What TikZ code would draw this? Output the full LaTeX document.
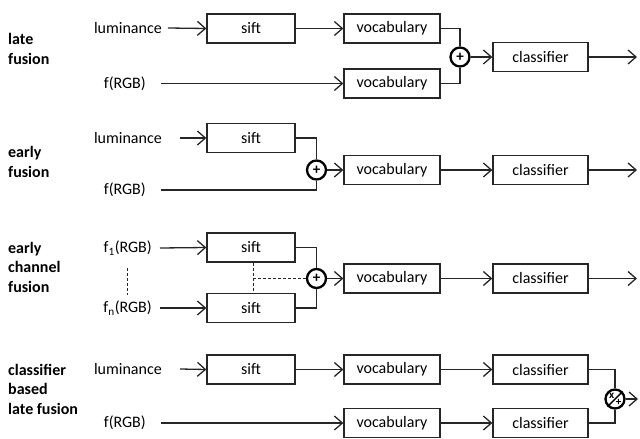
\documentclass[tikz,border=0pt]{standalone}
\usepackage{fontspec}
\setmainfont{Carlito}
\usetikzlibrary{arrows.meta,calc}

\begin{document}
\begin{tikzpicture}[x=1pt,y=-1pt,
  every node/.style={font=\fontsize{16}{20}\selectfont},
  box/.style={draw=black!85,line width=1.3pt,minimum height=29pt,inner sep=0pt},
  siftbox/.style={box,minimum width=88pt},
  vocbox/.style={box,minimum width=96pt},
  clsbox/.style={box,minimum width=95pt},
  sum/.style={circle,draw=black,line width=2.3pt,minimum size=19pt,inner sep=0pt},
  sumsign/.style={inner sep=0pt,font=\fontsize{15}{15}\selectfont\bfseries},
  lbl/.style={anchor=east,inner sep=0pt},
  title/.style={anchor=west,align=left,inner sep=0pt,font=\fontsize{16}{19.5}\selectfont\bfseries},
  wire/.style={draw=black!85,line width=1.3pt},
  dashwire/.style={wire,line width=1pt,dash pattern=on 3pt off 2pt},
  arr/.style={wire,-{Straight Barb[length=8pt,width=14pt]}},
  opsign/.style={inner sep=0pt,font=\fontsize{11}{11}\selectfont\bfseries}
]
\useasboundingbox (0,0) rectangle (640,439);

% ---------- late fusion ----------
\node[title] (t1) at (8,49) {late\\fusion};
\node[lbl] (lum1) at (162,28) {luminance};
\node[siftbox] (sift1) at (251,28.5) {sift};
\node[vocbox] (voc1a) at (392,28.5) {vocabulary};
\node[lbl] (rgb1) at (146,83.5) {f(RGB)};
\node[vocbox] (voc1b) at (392,83.5) {vocabulary};
\node[sum] (sum1) at (460,57) {};
\node[sumsign] at (sum1.center) {+};
\node[clsbox] (cls1) at (540.5,57) {classifier};
\coordinate (out1) at (637,57);

\draw[arr] ([xshift=6pt]lum1.east) -- (sift1.west);
\draw[arr] (sift1.east) -- (voc1a.west);
\draw[arr] ([xshift=15pt]rgb1.east) -- (voc1b.west);
\draw[wire] (voc1a.east) -| (sum1.north);
\draw[wire] (voc1b.east) -| (sum1.south);
\draw[arr] (sum1.east) -- (cls1.west);
\draw[arr] (cls1.east) -- (out1);

% ---------- early fusion ----------
\node[title] (t2) at (8,162) {early\\fusion};
\node[lbl] (lum2) at (162,138) {luminance};
\node[siftbox] (sift2) at (251,138) {sift};
\node[lbl] (rgb2) at (146,190) {f(RGB)};
\node[sum] (sum2) at (316.5,170) {};
\node[sumsign] at (sum2.center) {+};
\node[vocbox] (voc2) at (392,170) {vocabulary};
\node[clsbox] (cls2) at (540.5,170) {classifier};
\coordinate (out2) at (637,170);

\draw[arr] ([xshift=18pt]lum2.east) -- (sift2.west);
\draw[wire] (sift2.east) -| (sum2.north);
\draw[wire] ([xshift=15pt]rgb2.east) -| (sum2.south);
\draw[arr] (sum2.east) -- (voc2.west);
\draw[arr] (voc2.east) -- (cls2.west);
\draw[arr] (cls2.east) -- (out2);

% ---------- early channel fusion ----------
\node[title] (t3) at (8,267) {early\\channel\\fusion};
\node[lbl] (f1) at (152,248) {f\textsubscript{1}(RGB)};
\node[lbl] (fn) at (152,308) {f\textsubscript{n}(RGB)};
\coordinate (d1) at (127,268);
\coordinate (d2) at (127,295);
\node[siftbox] (sift3a) at (251,247.5) {sift};
\node[siftbox] (sift3b) at (251,308) {sift};
\node[sum] (sum3) at (316.5,278.5) {};
\node[sumsign] at (sum3.center) {+};
\node[vocbox] (voc3) at (392,278.5) {vocabulary};
\node[clsbox] (cls3) at (540.5,278.5) {classifier};
\coordinate (out3) at (637,278.5);

\draw[arr] ([xshift=8pt]f1.east) -- (sift3a.west);
\draw[arr] ([xshift=8pt]fn.east) -- (sift3b.west);
\draw[dashwire] (d1) -- (d2);
\draw[wire] (sift3a.east) -| (sum3.north);
\draw[wire] (sift3b.east) -| (sum3.south);
\draw[dashwire] ([xshift=2pt]sift3a.south) -- ([xshift=2pt]sift3b.north);
\draw[dashwire] ([xshift=2pt]sift3a.south |- sum3.west) -- (sum3.west);
\draw[arr] (sum3.east) -- (voc3.west);
\draw[arr] (voc3.east) -- (cls3.west);
\draw[arr] (cls3.east) -- (out3);

% ---------- classifier based late fusion ----------
\node[title] (t4) at (8,389) {classifier\\based\\late fusion};
\node[lbl] (lum4) at (162,369) {luminance};
\node[siftbox] (sift4) at (251,369.5) {sift};
\node[vocbox] (voc4a) at (392,369.5) {vocabulary};
\node[clsbox] (cls4a) at (540.5,369.5) {classifier};
\node[lbl] (rgb4) at (146,423) {f(RGB)};
\node[vocbox] (voc4b) at (392,423) {vocabulary};
\node[clsbox] (cls4b) at (540.5,423) {classifier};
\node[sum] (mul4) at (615,399) {};
% slash from lower left to upper right, x above it and + below it
\draw[black,line width=1.4pt] (mul4.south west) -- (mul4.north east);
\node[opsign] (mx) at ([xshift=-3.3pt,yshift=3.6pt]mul4.center) {x};
\node[opsign] (mp) at ([xshift=3.6pt,yshift=-3.4pt]mul4.center) {+};
\coordinate (out4) at (638,399);

\draw[arr] ([xshift=18pt]lum4.east) -- (sift4.west);
\draw[arr] (sift4.east) -- (voc4a.west);
\draw[arr] (voc4a.east) -- (cls4a.west);
\draw[arr] ([xshift=15pt]rgb4.east) -- (voc4b.west);
\draw[arr] (voc4b.east) -- (cls4b.west);
\draw[wire] (cls4a.east) -| (mul4.north);
\draw[wire] (cls4b.east) -| (mul4.south);
\draw[arr] (mul4.east) -- (out4);
\end{tikzpicture}
\end{document}
